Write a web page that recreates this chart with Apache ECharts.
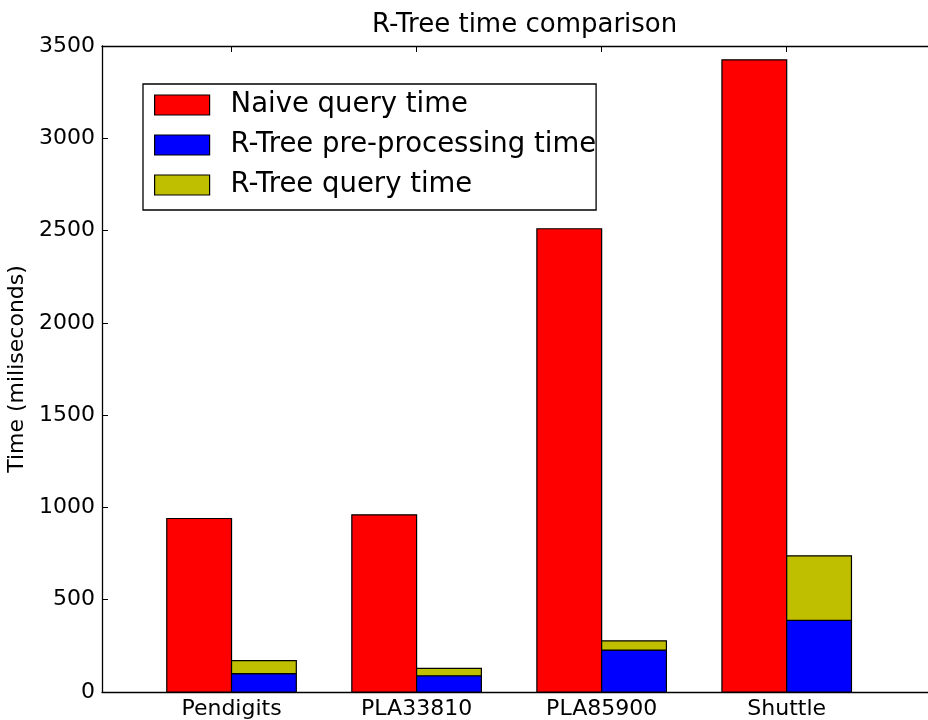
<!DOCTYPE html>
<html>
<head>
<meta charset="utf-8">
<script src="https://cdn.jsdelivr.net/npm/echarts@6/dist/echarts.min.js"></script>
<style>
  html, body { margin: 0; padding: 0; background: #fff; }
  #chart { width: 928px; height: 720px; }
</style>
</head>
<body>
<div id="chart"></div>
<script>
// Datasets and measured timings (milliseconds)
const categories = ['Pendigits', 'PLA33810', 'PLA85900', 'Shuttle'];
const naiveQuery = [940, 960, 2510, 3425];
const rtreePreprocessing = [100, 88, 227, 388];
const rtreeQuery = [70, 40, 50, 350];
const yTicks = [0, 500, 1000, 1500, 2000, 2500, 3000, 3500];

const FONT = 'DejaVu Sans';
const BAR_WIDTH = 0.35;                 // in group units
const groupPositions = categories.map((c, i) => i);

const COLORS = {
  naive: '#ff0000',
  pre: '#0000ff',
  query: '#bfbf00'
};

// [group, bottom, top] triples; the R-Tree query bar sits on top of pre-processing
const naiveData = naiveQuery.map((v, i) => [groupPositions[i], 0, v]);
const preData = rtreePreprocessing.map((v, i) => [groupPositions[i], 0, v]);
const queryData = rtreeQuery.map((v, i) => [groupPositions[i], rtreePreprocessing[i], rtreePreprocessing[i] + v]);

function barRenderer(offsetStart, fill) {
  return function (params, api) {
    const x = api.value(0);
    const y0 = api.value(1);
    const y1 = api.value(2);
    const topLeft = api.coord([x + offsetStart, y1]);
    const bottomRight = api.coord([x + offsetStart + BAR_WIDTH, y0]);
    return {
      type: 'rect',
      shape: {
        x: topLeft[0],
        y: topLeft[1],
        width: bottomRight[0] - topLeft[0],
        height: bottomRight[1] - topLeft[1]
      },
      style: { fill: fill, stroke: '#000', lineWidth: 1.2 }
    };
  };
}

function barSeries(name, data, offsetStart, color) {
  return {
    type: 'custom',
    name: name,
    data: data,
    encode: { x: 0, y: [1, 2] },
    itemStyle: { color: color, borderColor: '#000', borderWidth: 1.2 },
    renderItem: barRenderer(offsetStart, color),
    z: 3
  };
}

const chart = echarts.init(document.getElementById('chart'), null, { renderer: 'canvas' });

const frameLine = { show: true, onZero: false, lineStyle: { color: '#000', width: 1.3 } };
const innerTick = { show: true, inside: true, length: 6, lineStyle: { color: '#000', width: 1 } };

chart.setOption({
  backgroundColor: '#fff',
  animation: false,
  title: {
    text: 'R-Tree time comparison',
    left: 367,
    top: 7,
    textStyle: { fontFamily: FONT, fontSize: 26, fontWeight: 'normal', color: '#000' }
  },
  legend: {
    orient: 'vertical',
    left: 143,
    top: 84,
    padding: [7, 0, 11, 11],
    itemWidth: 55,
    itemHeight: 20,
    itemGap: 12,
    borderColor: '#000',
    borderWidth: 1.3,
    borderRadius: 0,
    backgroundColor: '#fff',
    icon: 'rect',
    textStyle: { fontFamily: FONT, fontSize: 27.5, color: '#000', lineHeight: 27, padding: [0, 0, 0, 16] },
    data: [
      { name: 'Naive query time', itemStyle: { color: COLORS.naive, borderColor: '#000', borderWidth: 1.2 } },
      { name: 'R-Tree pre-processing time', itemStyle: { color: COLORS.pre, borderColor: '#000', borderWidth: 1.2 } },
      { name: 'R-Tree query time', itemStyle: { color: COLORS.query, borderColor: '#000', borderWidth: 1.2 } }
    ]
  },
  grid: { left: 102, right: -16, top: 46, bottom: 28, containLabel: false, outerBoundsMode: 'none' },
  xAxis: [
    {
      type: 'value',
      min: -0.7,
      max: 3.85,
      axisLine: frameLine,
      axisTick: Object.assign({}, innerTick, { customValues: groupPositions }),
      axisLabel: {
        customValues: groupPositions,
        formatter: v => categories[Math.round(v)],
        fontFamily: FONT, fontSize: 22, color: '#000', margin: 6
      },
      splitLine: { show: false }
    },
    {
      type: 'value',
      position: 'top',
      min: -0.7,
      max: 3.85,
      axisLine: frameLine,
      axisTick: Object.assign({}, innerTick, { customValues: groupPositions }),
      axisLabel: { show: false },
      splitLine: { show: false }
    }
  ],
  yAxis: [
    {
      type: 'value',
      min: 0,
      max: 3500,
      interval: 500,
      name: 'Time (miliseconds)',
      nameLocation: 'middle',
      nameGap: 64,
      nameTextStyle: { fontFamily: FONT, fontSize: 22, color: '#000' },
      axisLine: frameLine,
      axisTick: innerTick,
      axisLabel: {
        fontFamily: FONT, fontSize: 22, color: '#000', margin: 7,
        formatter: v => String(v)
      },
      splitLine: { show: false }
    },
    {
      type: 'value',
      position: 'right',
      min: 0,
      max: 3500,
      interval: 500,
      axisLine: frameLine,
      axisTick: innerTick,
      axisLabel: { show: false },
      splitLine: { show: false }
    }
  ],
  series: [
    barSeries('Naive query time', naiveData, -BAR_WIDTH, COLORS.naive),
    barSeries('R-Tree pre-processing time', preData, 0, COLORS.pre),
    barSeries('R-Tree query time', queryData, 0, COLORS.query)
  ]
});
</script>
</body>
</html>
